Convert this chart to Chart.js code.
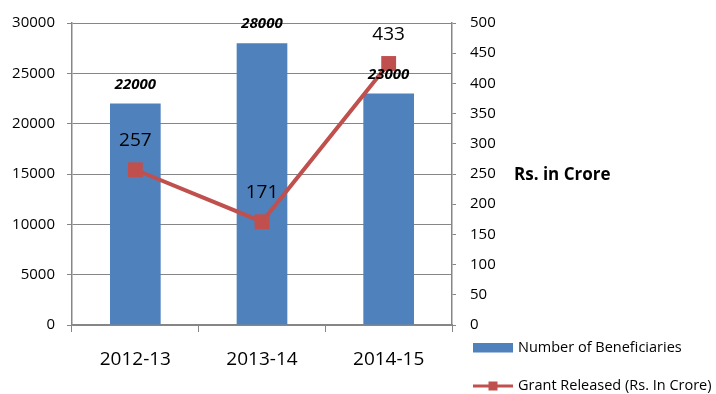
<!DOCTYPE html>
<html>
<head>
    <meta charset="UTF-8">
    <title>Beneficiaries and Grant Released</title>
    <script src="https://cdn.jsdelivr.net/npm/chart.js"></script>
    <style>
        html, body {
            margin: 0;
            padding: 0;
            background: #ffffff;
        }

        .chart-box {
            width: 716px;
            height: 394px;
        }
    </style>
</head>
<body>
    <div class="chart-box">
        <canvas id="grantChart" width="716" height="394"></canvas>
    </div>

    <script>
        // Chart data
        var years = ['2012-13', '2013-14', '2014-15'];
        var beneficiaries = [22000, 28000, 23000];
        var grantReleased = [257, 171, 433];

        var beneficiaryLabel = 'Number of Beneficiaries';
        var grantLabel = 'Grant Released (Rs. In Crore)';
        var rightAxisTitle = 'Rs. in Crore';

        var BLUE = '#4F81BD';
        var RED = '#C0504D';
        var GRID = '#868686';
        var FONT = "'Open Sans', 'Liberation Sans', sans-serif";

        // Value labels above bars and line points
        var valueLabels = {
            id: 'valueLabels',
            afterDatasetsDraw: function (chart) {
                var ctx = chart.ctx;
                ctx.save();
                ctx.fillStyle = '#000';
                ctx.textAlign = 'center';
                ctx.textBaseline = 'middle';

                var bars = chart.getDatasetMeta(0).data;
                ctx.font = 'italic bold 15px ' + FONT;
                bars.forEach(function (bar, i) {
                    ctx.fillText(String(beneficiaries[i]), bar.x, bar.y - 19);
                });

                var points = chart.getDatasetMeta(1).data;
                ctx.font = '19px ' + FONT;
                points.forEach(function (pt, i) {
                    ctx.fillText(String(grantReleased[i]), pt.x, pt.y - 29);
                });
                ctx.restore();
            }
        };

        // Right axis caption and the legend block in the lower right corner
        var sideTexts = {
            id: 'sideTexts',
            afterDraw: function (chart) {
                var ctx = chart.ctx;
                ctx.save();
                ctx.fillStyle = '#000';
                ctx.textAlign = 'left';
                ctx.textBaseline = 'middle';
                ctx.font = 'bold 17px ' + FONT;
                ctx.fillText(rightAxisTitle, 514, 175);

                // bar entry
                ctx.fillStyle = BLUE;
                ctx.fillRect(473, 343, 40, 9.5);
                ctx.fillStyle = '#000';
                ctx.font = '14.5px ' + FONT;
                ctx.fillText(beneficiaryLabel, 518, 348);

                // line entry
                ctx.strokeStyle = RED;
                ctx.lineWidth = 3;
                ctx.beginPath();
                ctx.moveTo(473, 386);
                ctx.lineTo(513, 386);
                ctx.stroke();
                ctx.fillStyle = RED;
                ctx.fillRect(488.5, 381.5, 9, 9);
                ctx.fillStyle = '#000';
                ctx.fillText(grantLabel, 518, 386);
                ctx.restore();
            }
        };

        function plainNumber(value) {
            return String(value);
        }

        var ctx = document.getElementById('grantChart').getContext('2d');
        var grantChart = new Chart(ctx, {
            type: 'bar',
            data: {
                labels: years,
                datasets: [{
                    type: 'bar',
                    label: beneficiaryLabel,
                    data: beneficiaries,
                    backgroundColor: BLUE,
                    borderWidth: 0,
                    barPercentage: 0.4,
                    categoryPercentage: 1.0,
                    yAxisID: 'y',
                    order: 1
                }, {
                    type: 'line',
                    label: grantLabel,
                    data: grantReleased,
                    borderColor: RED,
                    backgroundColor: RED,
                    borderWidth: 4,
                    pointStyle: 'rect',
                    pointRadius: 10.5,
                    pointBackgroundColor: RED,
                    pointBorderColor: RED,
                    pointBorderWidth: 0,
                    tension: 0,
                    fill: false,
                    clip: false,
                    yAxisID: 'y1',
                    order: 0
                }]
            },
            options: {
                responsive: false,
                animation: false,
                devicePixelRatio: 1,
                layout: {
                    padding: { top: 23, left: 0, right: 0, bottom: 0 }
                },
                plugins: {
                    legend: { display: false },
                    tooltip: { enabled: false }
                },
                scales: {
                    x: {
                        offset: true,
                        grid: {
                            offset: true,
                            drawOnChartArea: false,
                            color: GRID,
                            tickLength: 7
                        },
                        border: { color: GRID, width: 1.5 },
                        ticks: {
                            color: '#000',
                            padding: 16,
                            font: { family: FONT, size: 19 }
                        },
                        afterFit: function (scale) { scale.height = 69; }
                    },
                    y: {
                        position: 'left',
                        min: 0,
                        max: 30000,
                        ticks: {
                            stepSize: 5000,
                            color: '#000',
                            padding: 12,
                            font: { family: FONT, size: 15 },
                            callback: plainNumber
                        },
                        grid: {
                            color: GRID,
                            tickLength: 5
                        },
                        border: { color: GRID, width: 1.5 },
                        afterFit: function (scale) { scale.width = 72; }
                    },
                    y1: {
                        position: 'right',
                        min: 0,
                        max: 500,
                        ticks: {
                            stepSize: 50,
                            color: '#000',
                            padding: 14,
                            font: { family: FONT, size: 15 },
                            callback: plainNumber
                        },
                        grid: {
                            drawOnChartArea: false,
                            color: GRID,
                            tickLength: 4
                        },
                        border: { color: GRID, width: 1.5 },
                        afterFit: function (scale) { scale.width = 264; }
                    }
                }
            },
            plugins: [valueLabels, sideTexts]
        });
    </script>
</body>
</html>
